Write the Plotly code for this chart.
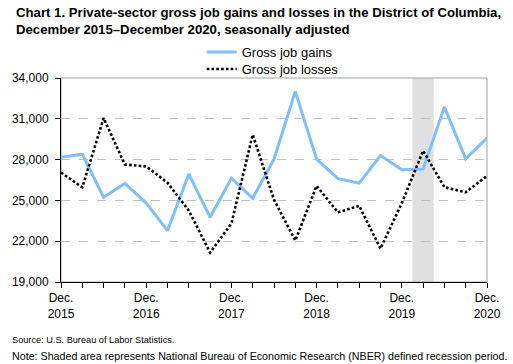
import plotly.graph_objects as go

quarters = list(range(21))
tick_labels = ["Dec.<br>2015", "", "", "", "Dec.<br>2016", "", "", "", "Dec.<br>2017", "", "", "",
               "Dec.<br>2018", "", "", "", "Dec.<br>2019", "", "", "", "Dec.<br>2020"]
gains = [28180, 28400, 25230, 26250, 24800, 22780, 26930, 23760, 26630, 25160, 28030,
         33020, 28030, 26600, 26270, 28300, 27250, 27300, 31860, 28060, 29580]
losses = [27050, 25960, 31050, 27640, 27500, 26300, 24250, 21160, 23300, 29830, 25050,
          22050, 26070, 24120, 24600, 21450, 24800, 28650, 25970, 25600, 26800]
recession = [16.5, 17.5]

FONT = "Liberation Sans, Arial, sans-serif"
W, H = 513, 364
L, R, T, B = 56, 24, 78, 82
PW, PH = W - L - R, H - T - B

def px_x(x):
    return (x - L) / PW

def px_y(y):
    return (H - B - y) / PH

fig = go.Figure()
fig.add_trace(go.Scatter(x=quarters, y=gains, mode="lines", name="Gross job gains",
                         line=dict(color="#80BFFF", width=3), legend="legend"))
fig.add_trace(go.Scatter(x=quarters, y=losses, mode="lines", name="Gross job losses",
                         line=dict(color="black", width=2.6, dash="2.6px,2.2px"), legend="legend2"))

fig.add_shape(type="rect", xref="x", yref="paper", x0=recession[0], x1=recession[1], y0=0, y1=1,
              fillcolor="#E0E0E0", line=dict(width=0), layer="below")
fig.add_shape(type="rect", xref="paper", yref="paper", x0=0, x1=1, y0=0, y1=1,
              line=dict(color="#A0A0A0", width=1), layer="below")

leg = dict(xanchor="left", yanchor="middle", bgcolor="rgba(0,0,0,0)",
           font=dict(size=13, family=FONT), itemwidth=30)
fig.update_layout(
    width=W, height=H,
    margin=dict(l=L, r=R, t=T, b=B),
    paper_bgcolor="white", plot_bgcolor="white",
    font=dict(family=FONT, size=12, color="black"),
    legend=dict(leg, x=px_x(199), y=px_y(52)),
    legend2=dict(leg, x=px_x(199), y=px_y(69)),
    showlegend=True,
)
fig.update_xaxes(range=[0, 20], tickmode="array", tickvals=quarters, ticktext=tick_labels,
                 showgrid=False, showline=True, linecolor="black", linewidth=1,
                 ticks="outside", ticklen=5, tickcolor="black", zeroline=False, tickangle=0)
fig.update_yaxes(range=[19000, 34000], tick0=19000, dtick=3000, tickformat=",", showgrid=True,
                 gridcolor="#C0C0C0", griddash="dash", gridwidth=1,
                 showline=True, linecolor="black", linewidth=1, ticklabelstandoff=4,
                 ticks="outside", ticklen=5, tickcolor="black", zeroline=False)

fig.add_annotation(text="<b>Chart 1. Private-sector gross job gains and losses in the District of Columbia,<br>December 2015–December 2020, seasonally adjusted</b>",
                   xref="paper", yref="paper", x=px_x(8), y=px_y(3), xanchor="left", yanchor="top",
                   align="left", showarrow=False, font=dict(size=13.2, family=FONT))
fig.add_annotation(text="Source: U.S. Bureau of Labor Statistics.", xref="paper", yref="paper",
                   x=px_x(4), y=px_y(340), xanchor="left", yanchor="middle", showarrow=False,
                   font=dict(size=9.2, family=FONT))
fig.add_annotation(text="Note: Shaded area represents National Bureau of Economic Research (NBER) defined recession period.",
                   xref="paper", yref="paper",
                   x=px_x(4), y=px_y(356), xanchor="left", yanchor="middle", showarrow=False,
                   font=dict(size=10.7, family=FONT))

fig.write_html("out.html", config={"displayModeBar": False},
               post_script="document.body.style.margin='0';document.body.style.overflow='hidden';")
